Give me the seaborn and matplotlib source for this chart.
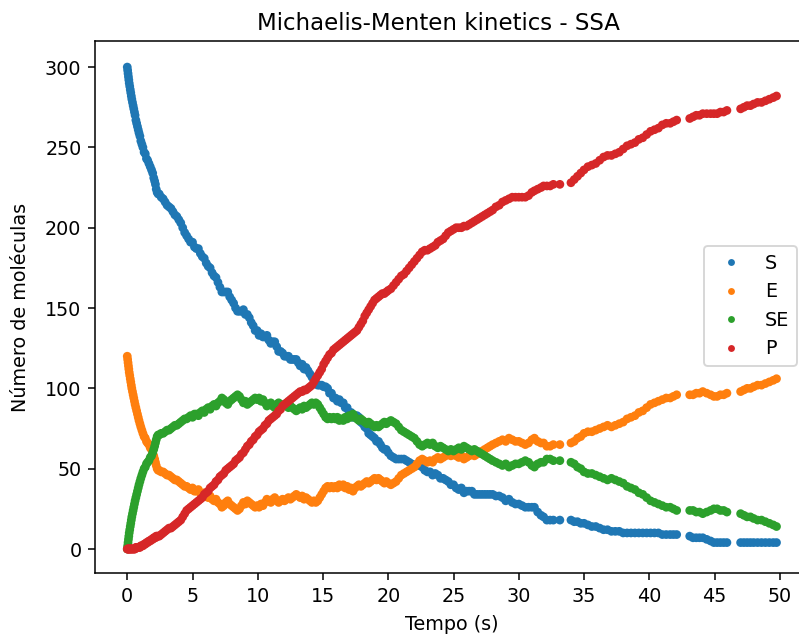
import matplotlib
matplotlib.use("Agg")
import matplotlib.pyplot as plt
import seaborn as sns
import pandas as pd

# ---- data (SSA trajectory) ----
times = [
    0.00, 0.03, 0.06, 0.09, 0.12, 0.15, 0.19, 0.23, 0.27, 0.31, 0.35, 0.40, 0.45, 0.50, 0.55, 0.60,
    0.66, 0.72, 0.78, 0.84, 0.90, 0.97, 1.04, 1.12, 1.20, 1.29, 1.38, 1.47, 1.56, 1.66, 1.76, 1.86,
    1.95, 2.03, 2.10, 2.16, 2.22, 2.29, 2.37,
    2.45, 2.60, 2.75, 2.90, 3.05, 3.20, 3.35, 3.50, 3.65, 3.80, 3.95, 4.10, 4.25, 4.40, 4.55, 4.70,
    4.85, 5.00, 5.15, 5.30, 5.45, 5.60, 5.75, 5.90, 6.05, 6.20, 6.35, 6.50, 6.65, 6.80, 6.95, 7.10,
    7.25, 7.40, 7.55, 7.70, 7.85, 8.00, 8.15, 8.30, 8.45, 8.60, 8.75, 8.90, 9.05, 9.20, 9.35, 9.50,
    9.65, 9.80, 9.95, 10.10, 10.25, 10.40, 10.55, 10.70, 10.85, 11.00, 11.15, 11.30, 11.45, 11.60,
    11.75, 11.90, 12.05, 12.20, 12.35, 12.50, 12.65, 12.80, 12.95, 13.10, 13.25, 13.40, 13.55, 13.70,
    13.85, 14.00, 14.15, 14.30, 14.45, 14.60, 14.75, 14.90, 15.05, 15.20, 15.35, 15.50, 15.65, 15.80,
    15.95, 16.10, 16.25, 16.40, 16.55, 16.70, 16.85, 17.00, 17.15, 17.30, 17.45, 17.60, 17.75, 17.90,
    18.05, 18.20, 18.35, 18.50, 18.65, 18.80, 18.95, 19.10, 19.25, 19.40, 19.55, 19.70, 19.85, 20.00,
    20.20, 20.40, 20.60, 20.80, 21.00, 21.20, 21.40, 21.60, 21.80, 22.00, 22.20, 22.40, 22.60, 22.80,
    23.00, 23.20, 23.40, 23.60, 23.80, 24.00, 24.20, 24.40, 24.60, 24.80, 25.00, 25.20, 25.40, 25.60,
    25.80, 26.00, 26.20, 26.40, 26.60, 26.80, 27.00, 27.20, 27.40, 27.60, 27.80, 28.00,
    28.25, 28.50, 28.75, 29.00, 29.25, 29.50, 29.75,
    30.00, 30.25, 30.50, 30.75, 31.00, 31.20, 31.45, 31.70, 31.90, 32.15, 32.40, 32.65, 33.15, 34.00,
    34.25, 34.50, 34.75, 35.00, 35.30, 35.60, 35.90, 36.20, 36.50, 36.80, 37.10, 37.40, 37.70, 38.00,
    38.30, 38.60, 38.90, 39.20, 39.50, 39.80, 40.10, 40.40, 40.70, 41.00, 41.30, 41.60, 41.85, 42.10,
    43.10, 43.35, 43.60, 43.85, 44.10, 44.40, 44.70, 44.95, 45.20, 45.45, 45.70, 45.95, 47.00, 47.25,
    47.50, 47.75, 48.00, 48.30, 48.60, 48.90, 49.20, 49.50, 49.75,
]

S = [
    300, 298, 296, 294, 292, 290, 288, 286, 284, 282, 280, 278, 276, 274, 272, 270,
    267, 265, 263, 261, 259, 257, 254, 252, 250, 247, 246, 243, 242, 240, 238, 236,
    234, 231, 229, 227, 224, 222, 221,
    221, 219, 218, 216, 214, 213, 212, 210, 208, 207, 205, 203, 200, 197, 195, 193,
    191, 191, 188, 187, 187, 184, 182, 181, 178, 176, 175, 172, 170, 169, 166, 163,
    160, 160, 160, 160, 157, 155, 153, 150, 148, 148, 148, 149, 146, 146, 144, 141,
    139, 136, 136, 133, 134, 132, 132, 133, 130, 128, 129, 129, 126, 123,
    123, 122, 120, 120, 120, 118, 118, 118, 118, 116, 114, 115, 112, 113,
    111, 109, 107, 106, 103, 102, 102, 102, 101, 101, 100, 97, 97, 94,
    94, 92, 93, 91, 91, 88, 88, 85, 85, 82, 83, 83, 82, 79,
    78, 76, 75, 72, 71, 70, 69, 67, 67, 65, 63, 62, 62, 60,
    58, 57, 56, 56, 56, 56, 55, 54, 53, 52, 52, 52, 51, 49,
    48, 48, 46, 47, 46, 44, 44, 43, 42, 40, 40, 38, 37, 38,
    35, 36, 36, 36, 34, 34, 34, 34, 34, 34, 34, 34,
    33, 33, 32, 30, 31, 29, 28,
    28, 27, 26, 26, 26, 26, 23, 21, 20, 18, 18, 18, 18, 18,
    17, 17, 16, 16, 15, 14, 14, 13, 12, 12, 11, 11, 11, 10,
    10, 10, 10, 10, 10, 10, 10, 10, 10, 9, 9, 9, 9, 9,
    8, 7, 7, 7, 7, 6, 5, 4, 4, 4, 4, 4, 4, 4,
    4, 4, 4, 4, 4, 4, 4, 4, 4,
]

E = [
    120, 118, 116, 114, 112, 110, 108, 106, 104, 102, 100, 98, 96, 94, 92, 90,
    88, 86, 84, 82, 80, 78, 76, 74, 72, 70, 69, 67, 66, 65, 63, 62,
    60, 58, 56, 54, 52, 50, 49,
    49, 48, 48, 47, 46, 46, 45, 44, 43, 43, 42, 41, 40, 39, 39, 38,
    37, 38, 36, 36, 37, 35, 34, 35, 33, 32, 33, 31, 30, 31, 29, 28,
    26, 27, 29, 30, 28, 27, 26, 25, 24, 25, 27, 29, 28, 30, 29, 28,
    27, 26, 27, 26, 28, 27, 29, 31, 30, 29, 31, 32, 30, 29,
    30, 31, 30, 31, 32, 31, 32, 33, 34, 33, 32, 33, 31, 32,
    31, 30, 29, 30, 29, 30, 32, 34, 36, 38, 39, 38, 39, 38,
    39, 38, 40, 39, 40, 38, 39, 37, 38, 36, 38, 39, 40, 39,
    40, 41, 42, 41, 42, 43, 44, 43, 44, 43, 42, 41, 42, 41,
    40, 41, 42, 44, 46, 47, 48, 49, 50, 51, 53, 55, 56, 55,
    54, 55, 54, 56, 57, 56, 57, 58, 59, 58, 59, 58, 57, 58,
    56, 57, 58, 59, 58, 59, 60, 61, 62, 63, 64, 65,
    66, 67, 68, 67, 69, 68, 67,
    67, 66, 65, 66, 68, 69, 67, 66, 66, 64, 64, 65, 65, 66,
    67, 69, 70, 72, 73, 73, 74, 75, 76, 77, 76, 77, 78, 79,
    81, 82, 83, 85, 86, 88, 90, 91, 92, 93, 94, 94, 95, 96,
    96, 96, 97, 97, 98, 97, 96, 95, 95, 96, 96, 97, 98, 99,
    100, 100, 101, 102, 102, 103, 104, 105, 106,
]

SE = [
    0, 2, 4, 6, 8, 10, 12, 14, 16, 18, 20, 22, 24, 26, 28, 30,
    32, 34, 36, 38, 40, 42, 44, 46, 48, 50, 51, 53, 54, 55, 57, 58,
    60, 62, 64, 66, 68, 70, 71,
    71, 72, 72, 73, 74, 74, 75, 76, 77, 77, 78, 79, 80, 81, 81, 82,
    83, 82, 84, 84, 83, 85, 86, 85, 87, 88, 87, 89, 90, 89, 91, 92,
    94, 93, 91, 90, 92, 93, 94, 95, 96, 95, 93, 91, 92, 90, 91, 92,
    93, 94, 93, 94, 92, 93, 91, 89, 90, 91, 89, 88, 90, 91,
    90, 89, 90, 89, 88, 89, 88, 87, 86, 87, 88, 87, 89, 88,
    89, 90, 91, 90, 91, 90, 88, 86, 84, 82, 81, 82, 81, 82,
    81, 82, 80, 81, 80, 82, 81, 83, 82, 84, 82, 81, 80, 81,
    80, 79, 78, 79, 78, 77, 76, 77, 76, 77, 78, 79, 78, 79,
    80, 79, 78, 76, 74, 73, 72, 71, 70, 69, 67, 65, 64, 65,
    66, 65, 66, 64, 63, 64, 63, 62, 61, 62, 61, 62, 63, 62,
    64, 63, 62, 61, 62, 61, 60, 59, 58, 57, 56, 55,
    54, 53, 52, 53, 51, 52, 53,
    53, 54, 55, 54, 52, 51, 53, 54, 54, 56, 56, 55, 55, 54,
    53, 51, 50, 48, 47, 47, 46, 45, 44, 43, 44, 43, 42, 41,
    39, 38, 37, 35, 34, 32, 30, 29, 28, 27, 26, 26, 25, 24,
    24, 24, 23, 23, 22, 23, 24, 25, 25, 24, 24, 23, 22, 21,
    20, 20, 19, 18, 18, 17, 16, 15, 14,
]

P = [
    0, 0, 0, 0, 0, 0, 0, 0, 0, 0, 0, 0, 0, 0, 0, 0,
    1, 1, 1, 1, 1, 1, 2, 2, 2, 3, 3, 4, 4, 5, 5, 6,
    6, 7, 7, 7, 8, 8, 8,
    8, 9, 10, 11, 12, 13, 13, 14, 15, 16, 17, 18, 20, 22, 24, 25,
    26, 27, 28, 29, 30, 31, 32, 34, 35, 36, 38, 39, 40, 42, 43, 45,
    46, 47, 49, 50, 51, 52, 53, 55, 56, 57, 59, 60, 62, 64, 65, 67,
    68, 70, 71, 73, 74, 75, 77, 78, 80, 81, 82, 83, 84, 86,
    87, 89, 90, 91, 92, 93, 94, 95, 96, 97, 98, 98, 99, 99,
    100, 101, 102, 104, 106, 108, 110, 112, 115, 117, 119, 121, 122, 124,
    125, 126, 127, 128, 129, 130, 131, 132, 133, 134, 135, 136, 138, 140,
    142, 145, 147, 149, 151, 153, 155, 156, 157, 158, 159, 159, 160, 161,
    162, 164, 166, 168, 170, 171, 173, 175, 177, 179, 181, 183, 185, 186,
    186, 187, 188, 189, 191, 192, 193, 195, 197, 198, 199, 200, 200, 200,
    201, 201, 202, 203, 204, 205, 206, 207, 208, 209, 210, 211,
    213, 214, 216, 217, 218, 219, 219,
    219, 219, 219, 220, 222, 223, 224, 225, 226, 226, 226, 227, 227, 228,
    230, 232, 234, 236, 238, 239, 240, 242, 244, 245, 245, 246, 247, 249,
    251, 252, 253, 255, 256, 258, 260, 261, 262, 264, 265, 265, 266, 267,
    268, 269, 270, 270, 271, 271, 271, 271, 271, 272, 272, 273, 274, 275,
    276, 276, 277, 278, 278, 279, 280, 281, 282,
]

species = ["S", "E", "SE", "P"]
colors = ["#1f77b4", "#ff7f0e", "#2ca02c", "#d62728"]

series = [S, E, SE, P]
df = pd.DataFrame({
    "t": times * 4,
    "n": [v for s in series for v in s],
    "esp": [name for name, s in zip(species, series) for _ in s],
})

DPI = 137.5
fig = plt.figure(figsize=(799 / DPI, 639 / DPI), dpi=DPI)
ax = fig.add_axes([0.1186, 0.1030, 0.8949, 0.8325])

sns.scatterplot(data=df, x="t", y="n", hue="esp", hue_order=species,
                palette=colors, s=21, linewidth=0, ax=ax)

ax.set_xlim(-2.49, 52.3)
ax.set_ylim(-15.05, 316.1)
ax.set_xticks(range(0, 51, 5))
ax.set_yticks(range(0, 301, 50))
ax.set_xlabel("Tempo (s)", labelpad=5)
ax.set_ylabel("Número de moléculas", labelpad=8)
ax.set_title("Michaelis-Menten kinetics - SSA", x=0.48)

sns.move_legend(ax, "center right", bbox_to_anchor=(797 / 799, 1 - 306 / 639),
                bbox_transform=fig.transFigure, borderaxespad=0, title=None)
leg = ax.get_legend()
for h in leg.legend_handles:
    try:
        h.set_markersize(3.6)
    except Exception:
        pass

fig.savefig("out.png", dpi=DPI)
